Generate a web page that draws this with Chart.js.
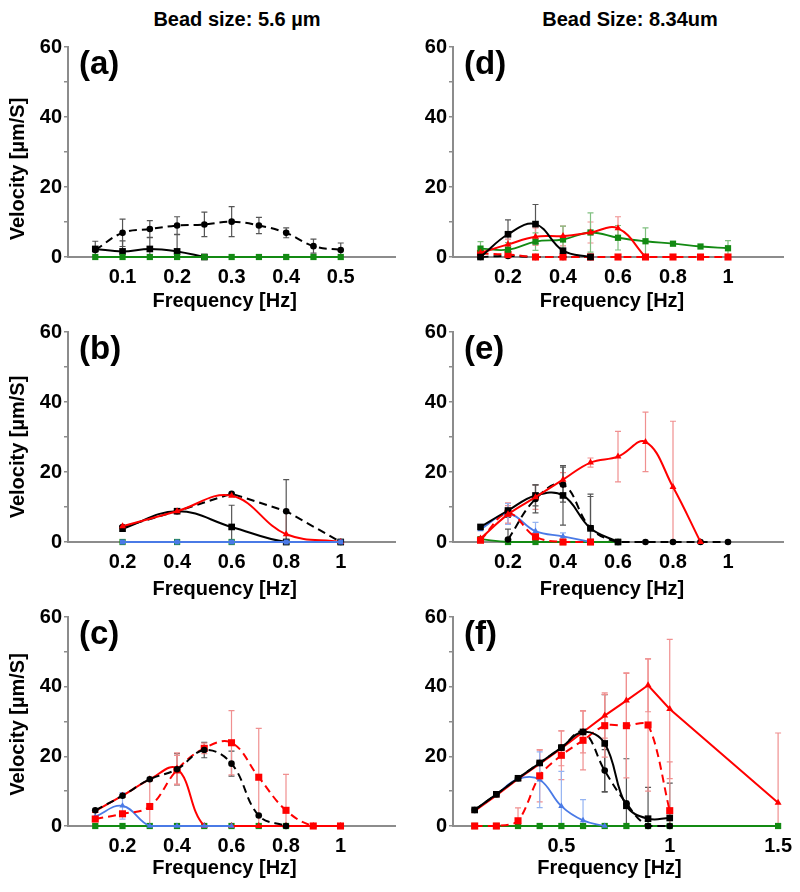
<!DOCTYPE html>
<html><head><meta charset="utf-8">
<script src="https://cdn.jsdelivr.net/npm/chart.js@4.4.1/dist/chart.umd.min.js"></script>
<style>
html,body{margin:0;padding:0;background:#fff;}
#wrap{position:relative;width:800px;height:892px;overflow:hidden;background:#fff;}
canvas{position:absolute;}
.hdr{position:absolute;top:9px;font:bold 20px "Liberation Sans",Arial,sans-serif;line-height:20px;white-space:nowrap;transform:translateX(-50%);color:#000;}
</style></head><body>
<div id="wrap">
<div class="hdr" style="left:237px">Bead size: 5.6 µm</div>
<div class="hdr" style="left:630px">Bead Size: 8.34um</div>
<canvas id="cA" width="400" height="290" style="left:0;top:25px"></canvas>
<canvas id="cD" width="400" height="290" style="left:400px;top:25px"></canvas>
<canvas id="cB" width="400" height="290" style="left:0;top:310px"></canvas>
<canvas id="cE" width="400" height="290" style="left:400px;top:310px"></canvas>
<canvas id="cC" width="400" height="297" style="left:0;top:595px"></canvas>
<canvas id="cF" width="400" height="297" style="left:400px;top:595px"></canvas>
</div>
<script>
// ---------- data ----------
const yTickValues = [0,10,20,30,40,50,60];
const yTickLabels = [0,20,40,60];
const xTitle = 'Frequency [Hz]';
const yTitle = 'Velocity [µm/S]';

// (a)
const xA = [0.05,0.1,0.15,0.2,0.25,0.3,0.35,0.4,0.45,0.5];
const xTicksA = [0.1,0.2,0.3,0.4,0.5];
const aBlackDash = [2.0,6.9,8.0,9.0,9.3,10.1,9.0,6.9,3.1,2.0];
const aBlackDashErr = [0,3.9,2.4,2.5,3.5,4.3,2.3,1.4,2.0,2.0];
const aBlackSolid = [2.3,1.6,2.3,1.6,0];
const aBlackSolidErr = [2.2,3.0,3.2,4.8,0];
const aGreen = [0,0,0,0,0,0,0,0,0,0];

// (b)
const xB = [0.2,0.4,0.6,0.8,1];
const xTicksB = [0.2,0.4,0.6,0.8,1];
const bRedSolid = [4.5,8.8,13.2,2.2,0];
const bRedSolidErr = [0,0,0,6.5,0];
const bBlackDash = [4.3,8.8,13.8,8.8,0];
const bBlackDashErr = [0,0,0,9.0,0];
const bBlackSolid = [3.8,8.8,4.3,0,0];
const bBlackSolidErr = [0,0,6.2,0,0];
const bBlue = [0,0,0,0,0];
const bGreen = [0,0,0,0,0];

// (c)
const xC = [0.1,0.2,0.3,0.4,0.5,0.6,0.7,0.8,0.9,1];
const xTicksC = [0.2,0.4,0.6,0.8,1];
const cBlackDash = [4.5,8.7,13.4,16.3,21.8,17.9,3.0,0];
const cBlackDashErr = [0,0,0,4.5,2.2,3.6,0,0];
const cRedDash = [2.0,3.5,5.6,16.1,22.3,23.9,14.0,4.5,0,0];
const cRedDashErr = [0,0,7.5,4.2,1.5,9.2,14.0,10.3,0,0];
const cRedSolid = [4.3,8.7,13.4,16.5,0,0,0,0,0,0];
const cRedSolidErr = [0,0,0,4.5,0,0,0,0,0,0];
const cBlue = [2.7,5.8,0,0,0,0];
const cBlueErr = [0,3.8,0,0,0,0];
const cGreen = [0,0,0,0,0,0,0,0];

// (d)
const xD = [0.1,0.2,0.3,0.4,0.5,0.6,0.7,0.8,0.9,1];
const xTicksD = [0.2,0.4,0.6,0.8,1];
const dBlackSolid = [0,6.5,9.4,1.8,0];
const dBlackSolidErr = [0,4.1,5.6,0,0];
const dRedSolid = [1.2,3.6,5.8,6.0,7.0,8.2,0];
const dRedSolidErr = [0,1.5,2.5,2.8,3.0,3.3,0];
const dGreen = [2.4,2.1,4.4,5.0,7.0,5.5,4.5,3.8,3.0,2.5];
const dGreenErr = [2.0,2.0,2.5,3.8,5.6,3.5,3.8,0,0,2.2];
const dRedDash = [1.0,0.7,0,0,0,0,0,0,0,0];
const dBlackDash = [0,0.3,0,0,0];

// (e)
const xE = [0.1,0.2,0.3,0.4,0.5,0.6,0.7,0.8,0.9,1];
const xTicksE = [0.2,0.4,0.6,0.8,1];
const eRedSolid = [1.0,7.9,12.8,17.8,22.7,24.4,28.6,15.7,0];
const eRedSolidErr = [0,2.5,3.5,2.0,1.3,7.2,8.5,18.8,0];
const eBlackSolid = [4.3,9.0,13.3,13.3,3.9,0];
const eBlackSolidErr = [0,2.0,3.0,8.5,9.8,0];
const eBlackDash = [null,0.7,12.3,16.4,4.0,0,0,0,0,0];
const eBlackDashErr = [0,3.0,4.0,5.0,9.0,0,0,0,0,0];
const eRedDash = [0.5,8.2,1.5,0,0];
const eRedDashErr = [0,3.0,1.0,0,0];
const eBlue = [3.6,8.0,3.1,1.6,0];
const eBlueErr = [0,3.0,2.5,1.0,0];
const eGreen = [0.8,0,0,0,0,0];

// (f)
const xF = [0.1,0.2,0.3,0.4,0.5,0.6,0.7,0.8,0.9,1,1.5];
const xTicksF = [0.5,1,1.5];
const fBlackSolid = [4.6,9.1,13.7,18.1,22.5,27.0,23.7,5.8,2.1,2.3];
const fBlackSolidErr = [0,0,0,0,0,0,14.0,13.5,9.0,10.0];
const fBlackDash = [4.6,9.1,13.7,18.1,22.5,27.0,15.9,6.5,0,0];
const fBlackDashErr = [0,0,0,0,0,0,6.0,0,0,0];
const fRedSolid = [4.3,8.8,13.5,17.8,22.3,27.0,31.7,36.0,40.4,33.6,6.7];
const fRedSolidErr = [0,0,0,4.0,5.0,6.0,6.5,8.0,7.6,20.0,20.0];
const fRedDash = [0,0,1.5,14.4,20.3,24.6,28.8,28.8,29.0,4.4];
const fRedDashErr = [0,0,3.7,7.5,7.0,8.5,9.0,15.0,19.0,14.0];
const fBlue = [4.5,9.0,13.5,13.3,5.7,1.6,0];
const fBlueErr = [0,0,0,8.0,10.0,6.0,0];
const fGreen = [0,0,0,0,0,0,0,0,0,0,0];

// ---------- styles ----------
const FONT = '"Liberation Sans", Arial, Helvetica, sans-serif';
const STYLES = {
  blackSolid:{color:'#000000', dash:[], ps:'rect', r:4.7, err:'#555555', w:2},
  blackDash:{color:'#000000', dash:[8,5], ps:'circle', r:3.3, err:'#555555', w:2},
  redSolid:{color:'#ff0000', dash:[], ps:'triangle', r:4, err:'#f09090', w:2},
  redDash:{color:'#ff0000', dash:[8,5], ps:'rect', r:5, err:'#f09090', w:2},
  green:{color:'#138a13', dash:[], ps:'rect', r:4.4, err:'#80c080', w:1.8},
  blue:{color:'#4a7ae6', dash:[], ps:'triangle', r:3.6, err:'#95b4f2', w:1.8}
};
function series(kind, xs, ys, errs, tension, ps){
  const s = STYLES[kind];
  return {
    data: ys.map((y,i)=>({x:xs[i], y:(y==null?null:y)})),
    errors: errs||null, errColor: s.err,
    borderColor:s.color, backgroundColor:s.color, borderWidth:s.w, borderDash:s.dash,
    pointStyle: ps||s.ps, pointRadius:s.r, pointBackgroundColor:s.color,
    pointBorderColor:s.color, pointBorderWidth:0,
    tension:(tension==null?0.4:tension), clip:false, fill:false, spanGaps:false
  };
}

const errorBars = {
  id:'errorBars',
  beforeDatasetsDraw(chart){
    const {ctx, chartArea:a} = chart;
    const xs = chart.scales.x, ys = chart.scales.y;
    ctx.save();
    ctx.beginPath(); ctx.rect(a.left-5, a.top-5, a.right-a.left+10, a.bottom-a.top+5); ctx.clip();
    chart.data.datasets.forEach(ds=>{
      if(!ds.errors) return;
      ctx.strokeStyle = ds.errColor; ctx.lineWidth = 1.2; ctx.setLineDash([]);
      ds.data.forEach((pt,j)=>{
        const e = ds.errors[j];
        if(!e || pt.y==null) return;
        const x = xs.getPixelForValue(pt.x);
        const yt = ys.getPixelForValue(pt.y+e);
        const yb = ys.getPixelForValue(pt.y-e);
        ctx.beginPath();
        ctx.moveTo(x,yt); ctx.lineTo(x,yb);
        ctx.moveTo(x-3,yt); ctx.lineTo(x+3,yt);
        ctx.moveTo(x-3,yb); ctx.lineTo(x+3,yb);
        ctx.stroke();
      });
    });
    ctx.restore();
  }
};

function panelText(p){
  return {
    id:'panelText',
    afterDraw(chart){
      const {ctx, chartArea:a} = chart;
      ctx.save();
      ctx.fillStyle = '#000';
      ctx.font = 'bold 33px ' + FONT;
      ctx.textAlign = 'left'; ctx.textBaseline = 'alphabetic';
      ctx.fillText(p.label, a.left + 11, a.top + 27);
      ctx.font = 'bold 20px ' + FONT;
      ctx.textAlign = 'center'; ctx.textBaseline = 'middle';
      ctx.fillText(xTitle, (a.left + a.right)/2 + p.xdx, a.bottom + p.xdy);
      if (p.yTitle) {
        ctx.translate(18, (a.top + a.bottom)/2 + p.ydy);
        ctx.rotate(-Math.PI/2);
        ctx.fillText(yTitle, 0, 0);
      }
      ctx.restore();
    }
  };
}

function makeChart(id, p){
  new Chart(document.getElementById(id), {
    type:'line',
    data:{datasets:p.datasets},
    options:{
      responsive:false, animation:false, events:[],
      layout:{padding:{top:22, left:0, right:p.right, bottom:0}},
      plugins:{legend:{display:false}, tooltip:{enabled:false}},
      scales:{
        x:{
          type:'linear', min:0, max:p.xMax,
          afterBuildTicks:s=>{ s.ticks = p.xTicks.map(v=>({value:v})); },
          afterFit:s=>{ s.height = p.xH; },
          ticks:{autoSkip:false, maxRotation:0, minRotation:0, padding:8, color:'#000',
                 font:{family:FONT, size:20, weight:'bold'}, callback:v=>String(v)},
          grid:{display:false, drawTicks:false},
          border:{display:true, color:'#8c8c8c', width:2}
        },
        y:{
          type:'linear', min:0, max:60,
          afterBuildTicks:s=>{ s.ticks = yTickValues.map(v=>({value:v})); },
          afterFit:s=>{ s.width = p.yW; },
          ticks:{autoSkip:false, padding:2, color:'#000',
                 font:{family:FONT, size:20, weight:'bold'},
                 callback:v=> yTickLabels.includes(v) ? String(v) : ''},
          grid:{display:true, drawOnChartArea:false, drawTicks:true, tickLength:4, color:'#8c8c8c', lineWidth:1.5},
          border:{display:true, color:'#8c8c8c', width:2}
        }
      }
    },
    plugins:[errorBars, panelText(p)]
  });
}

// datasets: first listed is drawn on top
makeChart('cA', {label:'(a)', yTitle:true, ydy:17, xdx:-7, xdy:44, right:2, yW:68, xH:58, xMax:0.6, xTicks:xTicksA,
  datasets:[
    series('green', xA, aGreen),
    series('blackDash', xA, aBlackDash, aBlackDashErr),
    series('blackSolid', xA, aBlackSolid, aBlackSolidErr)
  ]});
makeChart('cB', {label:'(b)', yTitle:true, ydy:10, xdx:-7, xdy:47, right:2, yW:68, xH:58, xMax:1.2, xTicks:xTicksB,
  datasets:[
    series('blue', xB, bBlue, null, 0.4, 'rect'),
    series('redSolid', xB, bRedSolid, bRedSolidErr),
    series('blackSolid', xB, bBlackSolid, bBlackSolidErr),
    series('blackDash', xB, bBlackDash, bBlackDashErr, 0),
    series('green', xB, bGreen)
  ]});
makeChart('cC', {label:'(c)', yTitle:true, ydy:3, xdx:-7, xdy:42, right:2, yW:68, xH:66, xMax:1.2, xTicks:xTicksC,
  datasets:[
    series('blackDash', xC, cBlackDash, cBlackDashErr),
    series('redDash', xC, cRedDash, cRedDashErr),
    series('blue', xC, cBlue, cBlueErr),
    series('redSolid', xC, cRedSolid, cRedSolidErr),
    series('green', xC, cGreen)
  ]});
makeChart('cD', {label:'(d)', yTitle:false, ydy:0, xdx:-6, xdy:44, right:17, yW:53, xH:58, xMax:1.2, xTicks:xTicksD,
  datasets:[
    series('blackSolid', xD, dBlackSolid, dBlackSolidErr),
    series('redSolid', xD, dRedSolid, dRedSolidErr),
    series('green', xD, dGreen, dGreenErr),
    series('redDash', xD, dRedDash),
    series('blackDash', xD, dBlackDash)
  ]});
makeChart('cE', {label:'(e)', yTitle:false, ydy:0, xdx:-6, xdy:47, right:17, yW:53, xH:58, xMax:1.2, xTicks:xTicksE,
  datasets:[
    series('redSolid', xE, eRedSolid, eRedSolidErr),
    series('blackSolid', xE, eBlackSolid, eBlackSolidErr),
    series('blackDash', xE, eBlackDash, eBlackDashErr),
    series('redDash', xE, eRedDash, eRedDashErr),
    series('blue', xE, eBlue, eBlueErr),
    series('green', xE, eGreen)
  ]});
makeChart('cF', {label:'(f)', yTitle:false, ydy:0, xdx:-6, xdy:42, right:17, yW:53, xH:66, xMax:1.5, xTicks:xTicksF,
  datasets:[
    series('blackSolid', xF, fBlackSolid, fBlackSolidErr),
    series('blackDash', xF, fBlackDash, fBlackDashErr),
    series('redSolid', xF, fRedSolid, fRedSolidErr, 0),
    series('redDash', xF, fRedDash, fRedDashErr, 0.3),
    series('blue', xF, fBlue, fBlueErr),
    series('green', xF, fGreen)
  ]});
</script>
</body></html>
